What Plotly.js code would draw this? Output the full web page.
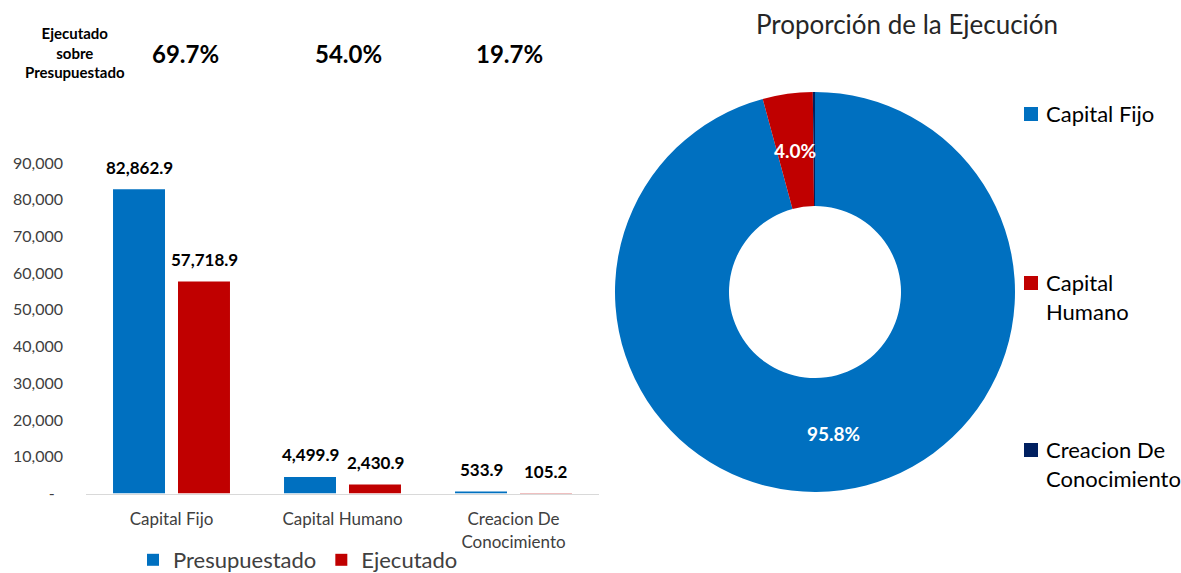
<!DOCTYPE html>
<html>
<head>
<meta charset="utf-8">
<script src="https://cdn.plot.ly/plotly-3.0.1.min.js"></script>
<style>
  html, body { margin: 0; padding: 0; background: #ffffff; overflow: hidden; }
  #chart { width: 1181px; height: 573px; }
</style>
</head>
<body>
<div id="chart"></div>
<script>
var categories = ['Capital Fijo', 'Capital Humano', 'Creacion De Conocimiento'];
var categoryLabels = ['Capital Fijo', 'Capital Humano', 'Creacion De<br>Conocimiento'];
var presupuestado = [82862.9, 4499.9, 533.9];
var ejecutado = [57718.9, 2430.9, 105.2];
var yTickVals = [0, 10000, 20000, 30000, 40000, 50000, 60000, 70000, 80000, 90000];
var yTickText = ['-\u00a0\u00a0', '10,000', '20,000', '30,000', '40,000', '50,000', '60,000', '70,000', '80,000', '90,000'];
var pieLabels = ['Capital Fijo', 'Capital Humano', 'Creacion De Conocimiento'];
var pieLegendText = ['Capital Fijo', 'Capital<br>Humano', 'Creacion De<br>Conocimiento'];
var pieShowPct = [true, true, false];

var BLUE = '#0070C0';
var RED = '#C00000';
var NAVY = '#002060';
var FONT = 'Lato, "Open Sans", sans-serif';
var W = 1181, H = 573;

function fmt(v) {
    return v.toLocaleString('en-US', {minimumFractionDigits: 1, maximumFractionDigits: 1});
}

var trace1 = {
    x: categoryLabels,
    y: presupuestado,
    type: 'bar',
    name: 'Presupuestado',
    marker: {color: BLUE},
    hoverinfo: 'none'
};

var trace2 = {
    x: categoryLabels,
    y: ejecutado,
    type: 'bar',
    name: 'Ejecutado',
    marker: {color: RED},
    hoverinfo: 'none'
};

// donut box in pixels
var pieCx = 815, pieCy = 292, pieR = 200, pieHole = 0.43;

var pie = {
    type: 'pie',
    labels: pieLabels,
    values: ejecutado,
    marker: {colors: [BLUE, RED, NAVY]},
    hole: pieHole,
    sort: false,
    direction: 'clockwise',
    rotation: 0,
    textinfo: 'none',
    domain: {x: [(pieCx - pieR) / W, (pieCx + pieR) / W], y: [1 - (pieCy + pieR) / H, 1 - (pieCy - pieR) / H]},
    showlegend: false,
    hoverinfo: 'none'
};

var annotations = [];

// value labels above the bars
var offsets = [-32.5, 32.5];
[presupuestado, ejecutado].forEach(function (series, s) {
    series.forEach(function (v, i) {
        annotations.push({
            x: categoryLabels[i], y: v, xref: 'x', yref: 'y',
            text: '<b>' + fmt(v) + '</b>',
            showarrow: false, xshift: offsets[s], yshift: 22,
            xanchor: 'center', yanchor: 'middle',
            font: {family: FONT, size: 17, color: '#000000'}
        });
    });
});

// Ejecutado sobre Presupuestado
annotations.push({
    x: 75 / W, y: 1 - 52.5 / H, xref: 'paper', yref: 'paper',
    text: '<b>Ejecutado<br>sobre<br>Presupuestado</b>',
    showarrow: false, align: 'center', xanchor: 'center', yanchor: 'middle',
    font: {family: FONT, size: 15, color: '#000000'}
});
var pctShift = [13.5, 6, -4.5];
presupuestado.forEach(function (p, i) {
    annotations.push({
        x: categoryLabels[i], y: 1 - 53 / H, xref: 'x', yref: 'paper',
        text: '<b>' + (ejecutado[i] / p * 100).toFixed(1) + '%</b>',
        showarrow: false, xshift: pctShift[i], xanchor: 'center', yanchor: 'middle',
        font: {family: FONT, size: 24, color: '#000000'}
    });
});

// percentage labels in the middle of the ring
var total = ejecutado.reduce(function (a, b) { return a + b; }, 0);
var cum = 0;
var rMid = pieR * (1 + pieHole) / 2;
ejecutado.forEach(function (v, i) {
    var frac = v / total;
    var ang = (cum + frac / 2) * 2 * Math.PI;
    cum += frac;
    if (!pieShowPct[i]) return;
    annotations.push({
        x: (pieCx + rMid * Math.sin(ang)) / W,
        y: 1 - (pieCy - rMid * Math.cos(ang)) / H,
        xref: 'paper', yref: 'paper',
        text: '<b>' + (frac * 100).toFixed(1) + '%</b>',
        showarrow: false, xanchor: 'center', yanchor: 'middle',
        font: {family: FONT, size: 19, color: '#ffffff'}
    });
});

// pie legend
var shapes = [];
var legendY = [114, 283, 450];
var pieColors = [BLUE, RED, NAVY];
pieLegendText.forEach(function (t, i) {
    annotations.push({
        x: 1044 / W, y: 1 - (legendY[i] - 16) / H, xref: 'paper', yref: 'paper',
        text: t, showarrow: false, xanchor: 'left', yanchor: 'top', align: 'left',
        font: {family: FONT, size: 22, color: '#000000'}
    });
    shapes.push({
        type: 'rect', xref: 'paper', yref: 'paper',
        x0: 1024 / W, x1: 1038 / W,
        y0: 1 - (legendY[i] + 7) / H, y1: 1 - (legendY[i] - 7) / H,
        fillcolor: pieColors[i], line: {width: 0}
    });
});

var layout = {
    width: W,
    height: H,
    margin: {t: 0, r: 0, l: 0, b: 0, autoexpand: false},
    paper_bgcolor: '#ffffff',
    plot_bgcolor: '#ffffff',
    font: {family: FONT, size: 16, color: '#404040'},
    title: {
        text: 'Proporción de la Ejecución',
        x: 907 / W, xanchor: 'center', xref: 'paper',
        y: 1 - 25 / H, yanchor: 'middle', yref: 'paper',
        font: {family: FONT, size: 26, color: '#262626'}
    },
    barmode: 'group',
    bargap: 0.24,
    bargroupgap: 0.2,
    xaxis: {
        domain: [86 / W, 599 / W],
        type: 'category',
        showline: true, linecolor: '#D9D9D9', linewidth: 1.5,
        ticks: '', showgrid: false, zeroline: false,
        ticklabelstandoff: 10,
        tickfont: {family: FONT, size: 17, color: '#404040'}
    },
    yaxis: {
        domain: [1 - 493.5 / H, 1 - 163 / H],
        range: [0, 90000],
        tickvals: yTickVals, ticktext: yTickText,
        showline: false, showgrid: false, zeroline: false, ticks: '',
        ticklabelstandoff: 22,
        tickfont: {family: FONT, size: 16, color: '#404040'}
    },
    showlegend: true,
    legend: {
        orientation: 'h',
        x: 298 / W, xanchor: 'center',
        y: 1 - 539 / H, yanchor: 'top',
        font: {family: FONT, size: 22, color: '#404040'},
        bgcolor: 'rgba(0,0,0,0)'
    },
    annotations: annotations,
    shapes: shapes
};

Plotly.newPlot('chart', [trace1, trace2, pie], layout, {displayModeBar: false, staticPlot: true});
</script>
</body>
</html>
